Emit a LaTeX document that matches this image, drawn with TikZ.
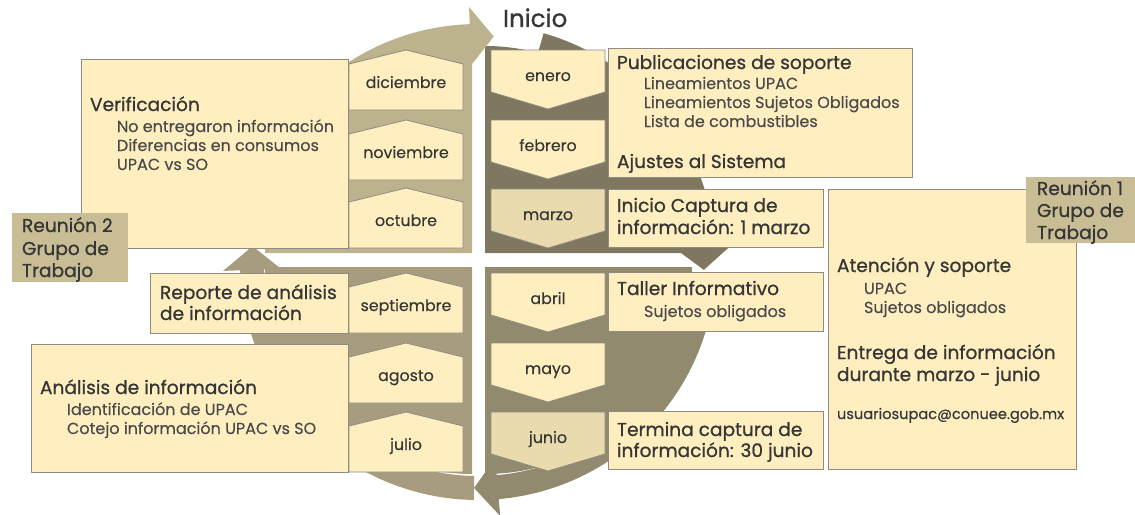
\documentclass[tikz,border=0pt]{standalone}
\usepackage{fontspec}
\setmainfont{Poppins}
\newfontfamily\medfont{Poppins}[FakeBold=0.9]
\newfontfamily\regfont{Poppins}[FakeBold=0.35]
\usetikzlibrary{calc}
\definecolor{boxfill}{HTML}{FFEFC0}
\definecolor{boxdark}{HTML}{E9DBAE}
\definecolor{boxedge}{HTML}{8E8B80}
\definecolor{reufill}{HTML}{C9BD96}
\definecolor{qtl}{HTML}{BDB28E}
\definecolor{qtr}{HTML}{7F7760}
\definecolor{qbr}{HTML}{918A6E}
\definecolor{qbl}{HTML}{A79D7E}
\definecolor{txtgray}{HTML}{363636}
\definecolor{itemgray}{HTML}{4A4A4A}

\tikzset{
  infobox/.style={draw=boxedge, line width=0.8pt, fill=boxfill, anchor=north west, inner sep=0pt},
  reubox/.style={fill=reufill, anchor=north west, inner sep=0pt},
  title/.style={anchor=base west, font=\medfont\fontsize{18.6}{22}\selectfont},
  item/.style={anchor=base west, font=\regfont\fontsize{16}{19}\selectfont, text=itemgray},
  month/.style={anchor=base, font=\regfont\fontsize{15.8}{19}\selectfont},
  monthshape/.style={draw=boxedge, line width=0.8pt, fill=boxfill},
}

% month with the point up (left column) and down (right column)
\newcommand{\upmonth}[4][boxfill]{%
  \draw[monthshape, fill=#1] (349,#3+14) -- (406,#3) -- (463,#3+14) -- (463,#3+60) -- (349,#3+60) -- cycle;
  \node[month] (#2) at (406,#3+38) {#4};}
\newcommand{\downmonth}[4][boxfill]{%
  \draw[monthshape, fill=#1] (491,#3) -- (605,#3) -- (605,#3+42) -- (548,#3+59) -- (491,#3+42) -- cycle;
  \node[month] (#2) at (548,#3+31) {#4};}

% curved arrow on the ring: colour, start angle, end angle
\newcommand{\ringarrow}[3]{%
  \fill[#1] ($(\cx,\cy)+(#2:\rout)$) arc[start angle=#2, end angle=#3, radius=\rout]
    -- ($(\cx,\cy)+(#3:\rout+17)$) -- ($(\cx,\cy)+({#3+6}:\rmid)$) -- ($(\cx,\cy)+(#3:\rin-17)$)
    -- ($(\cx,\cy)+(#3:\rin)$) arc[start angle=#3, end angle=#2, radius=\rin] -- cycle;}

\begin{document}
\begin{tikzpicture}[x=1pt, y=-1pt, every node/.style={inner sep=0pt, outer sep=0pt, text=txtgray}]
\useasboundingbox (0,0) rectangle (1135,514);

\def\cx{478}
\def\cy{262}
\def\rin{214}
\def\rout{238}
\def\rmid{226}
\def\rpie{207}

% Quarter sectors
\fill[qtl] (472,253) -- ++(180:\rpie) arc[start angle=180, end angle=270, radius=\rpie] -- cycle;
\fill[qtr] (485,253) -- ++(270:\rpie) arc[start angle=270, end angle=360, radius=\rpie] -- cycle;
\fill[qbr] (485,267) -- ++(0:\rpie) arc[start angle=0, end angle=90, radius=\rpie] -- cycle;
\fill[qbl] (472,267) -- ++(90:\rpie) arc[start angle=90, end angle=180, radius=\rpie] -- cycle;

% Ring arrows
\ringarrow{qbl}{91}{178}
\ringarrow{qbr}{4}{85}
\ringarrow{qtr}{286}{356}
\ringarrow{qtl}{184}{268}

\node[anchor=base west, font=\medfont\fontsize{24.5}{28}\selectfont] (inicio) at (503,27) {Inicio};

% Months
\upmonth{dic}{50}{diciembre}
\upmonth{nov}{120}{noviembre}
\upmonth{oct}{188}{octubre}
\upmonth{sep}{273}{septiembre}
\upmonth{ago}{343}{agosto}
\upmonth{jul}{412}{julio}
\downmonth{ene}{50}{enero}
\downmonth{feb}{120}{febrero}
\downmonth[boxdark]{mar}{189}{marzo}
\downmonth{abr}{273}{abril}
\downmonth{may}{343}{mayo}
\downmonth[boxdark]{jun}{412}{junio}

% Left boxes
\node[infobox, minimum width=267pt, minimum height=189pt] (verifbox) at (81,59) {};
\node[title] (verif) at (90,111) {Verificación};
\foreach \t/\y in {No entregaron información/132, Diferencias en consumos/151, UPAC vs SO/170}
  \node[item] (verif-\y) at (117,\y) {\t};

\node[reubox, minimum width=116pt, minimum height=69pt] (reudosbox) at (12,213) {};
\foreach \t/\y in {Reunión 2/232, Grupo de/255, Trabajo/277}
  \node[title] (reudos-\y) at (22,\y) {\t};

\node[infobox, minimum width=198pt, minimum height=60pt] (repbox) at (150,273) {};
\node[title] (rep-a) at (160,299) {Reporte de análisis};
\node[title] (rep-b) at (160,320) {de información};

\node[infobox, minimum width=317pt, minimum height=128pt] (analbox) at (31,344) {};
\node[title] (anal) at (40,394) {Análisis de información};
\foreach \t/\y in {Identificación de UPAC/415, Cotejo información UPAC vs SO/434}
  \node[item] (anal-\y) at (67,\y) {\t};

% Right boxes
\node[infobox, minimum width=304pt, minimum height=129pt] (pubbox) at (608,48) {};
\node[title] (pub) at (617,69) {Publicaciones de soporte};
\foreach \t/\y in {Lineamientos UPAC/89, Lineamientos Sujetos Obligados/108, Lista de combustibles/127}
  \node[item] (pub-\y) at (644,\y) {\t};
\node[title] (ajus) at (617,168) {Ajustes al Sistema};

\node[infobox, minimum width=215pt, minimum height=58pt] (inibox) at (608,189) {};
\node[title] (ini-a) at (617,212) {Inicio Captura de};
\node[title] (ini-b) at (617,234) {información: 1 marzo};

\node[infobox, minimum width=215pt, minimum height=59pt] (talbox) at (608,272) {};
\node[title] (tal) at (617,295) {Taller Informativo};
\node[item] (tal-a) at (644,317) {Sujetos obligados};

\node[infobox, minimum width=215pt, minimum height=58pt] (terbox) at (608,411) {};
\node[title] (ter-a) at (617,436) {Termina captura de};
\node[title] (ter-b) at (617,457) {información: 30 junio};

\node[infobox, minimum width=248pt, minimum height=280pt] (atebox) at (828,189) {};
\node[title] (ate) at (837,272) {Atención y soporte};
\foreach \t/\y in {UPAC/294, Sujetos obligados/313}
  \node[item] (ate-\y) at (864,\y) {\t};
\node[title] (ent-a) at (837,359) {Entrega de información};
\node[title] (ent-b) at (837,381) {durante marzo - junio};
\node[anchor=base west, font=\regfont\fontsize{14.6}{17}\selectfont] (mail) at (837,419) {usuariosupac@conuee.gob.mx};

\node[reubox, minimum width=109pt, minimum height=66pt] (reuunobox) at (1026,177) {};
\foreach \t/\y in {Reunión 1/195, Grupo de/217, Trabajo/239}
  \node[title] (reuuno-\y) at (1037,\y) {\t};

\end{tikzpicture}
\end{document}
